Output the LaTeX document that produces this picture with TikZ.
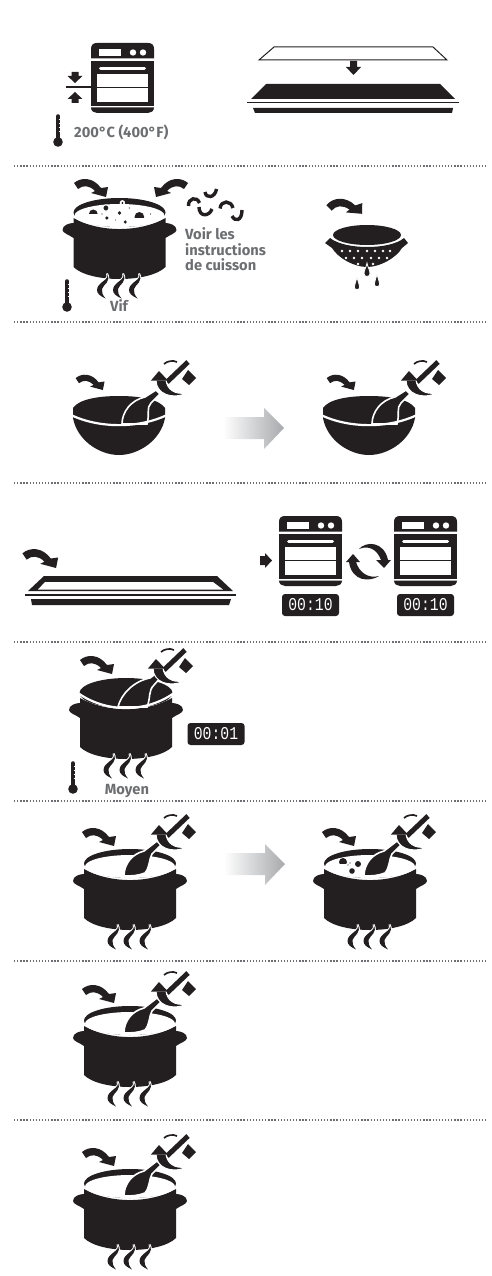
\documentclass[tikz,border=0pt]{standalone}
\usepackage{fontspec}
\newfontfamily\labfont{Fira Sans}
\newfontfamily\digitfont{Liberation Mono}
\definecolor{ink}{HTML}{231F20}
\definecolor{lab}{HTML}{6D6E71}
\definecolor{dotc}{HTML}{6D6E71}
\definecolor{arrowg}{HTML}{A7A9AC}
\tikzset{
 x=1pt,y=-1pt,
 divider/.style={line width=1.7pt,color=dotc,dash pattern=on 1.3pt off 1.8pt},
 labeltext/.style={inner sep=0pt,text=lab,font=\labfont\bfseries\fontsize{14.7}{15.5}\selectfont,align=left},
 timerbox/.style={fill=ink,rounded corners=3pt,minimum width=57pt,minimum height=22pt,inner sep=0pt,text=white,font=\digitfont\fontsize{18}{18}\selectfont},
 potbody/.pic={
  \fill[ink] (-46,7) .. controls (-20,21.7) and (20,21.7) .. (46,7) -- (46,12)
    .. controls (50,12) and (57,14) .. (57,19) .. controls (57,22) and (50,24) .. (46,27) -- (46,56)
    .. controls (30,72) and (-30,72) .. (-46,56) -- (-46,27)
    .. controls (-50,24) and (-57,22) .. (-57,19) .. controls (-57,14) and (-50,12) .. (-46,12) -- cycle;
  \foreach \wx in {-16,0,16}{
   \draw[white,line width=2pt,shift={(\wx,0)}] (3.5,62.5) .. controls (7,69) and (-6.5,71) .. (-6.5,79) .. controls (-6.5,83) and (-3,85) .. (2,87.5) .. controls (-1,84) and (-2,81) .. (-1.5,78) .. controls (0,73) and (8,71) .. (3.5,62.5) -- cycle;
   \fill[ink,shift={(\wx,0)}] (3.5,62.5) .. controls (7,69) and (-6.5,71) .. (-6.5,79) .. controls (-6.5,83) and (-3,85) .. (2,87.5) .. controls (-1,84) and (-2,81) .. (-1.5,78) .. controls (0,73) and (8,71) .. (3.5,62.5) -- cycle;
  }
 },
 potsoup/.pic={
  \pic at (0,0) {potbody};
  \fill[ink] (0,1.5) ellipse [x radius=46,y radius=14.5];
  \fill[white] (0,4.5) ellipse [x radius=45,y radius=11.5];
 },
 smallspoon/.pic={
  \filldraw[ink,draw=white,line width=1.6pt] (-6,14) .. controls (-6,2) and (2,-8) .. (14,-11) -- (27,-21) -- (31,-17) -- (22,-8) .. controls (19,-3) and (20,5) .. (15,11) .. controls (8,14) and (0,14) .. (-6,14) -- cycle;
 },
 stir/.pic={
  \draw[ink,line width=5pt] (37,-26) -- (58,-46);
  \filldraw[ink,draw=white,line width=1pt] (26,-28) .. controls (26,-14) and (42,-8) .. (57,-15) .. controls (44,-13) and (37,-19) .. (36,-28) -- cycle;
  \fill[ink] (21,-27.5) -- (29,-37) -- (38,-27.5) -- cycle;
  \draw[ink,line width=1.7pt] (34,-44) .. controls (37,-47) and (43,-48) .. (47,-46);
  \fill[ink] (52,-29) -- (58,-38) -- (66,-30) -- (59,-23) -- cycle;
 },
 bendarrow/.pic={
  \fill[ink] (-31,-14) .. controls (-24,-20) and (-12,-20) .. (-4,-9) -- (3,-10) -- (1,0) -- (-14,-4) -- (-10,-6)
    .. controls (-16,-12) and (-22,-12) .. (-27,-8) -- cycle;
 },
 oven/.pic={
  \fill[ink] (0,15.5) -- (0,6) .. controls (0,2) and (2,0) .. (6,0) -- (57,0) .. controls (61,0) and (63,2) .. (63,6) -- (63,15.5) -- cycle;
  \fill[white] (8,6) rectangle (30,13);
  \fill[white] (42,9.5) circle [radius=3.2];
  \fill[white] (52,9.5) circle [radius=3.2];
  \fill[ink] (0,18) rectangle (63,63);
  \fill[white] (6,31) rectangle (57,59);
  \draw[white,line width=3pt,line cap=round] (9.5,25.5) -- (53.5,25.5);
  \draw[ink,line width=1.4pt] (6,44.5) -- (57,44.5);
  \fill[ink] (0,64.5) -- (63,64.5) .. controls (63,68) and (60,70) .. (57,70) -- (6,70) .. controls (3,70) and (0,68) .. (0,64.5) -- cycle;
 },
 thermo/.pic={
  \draw[ink,line width=4.6pt,line cap=round] (0,-25.5) -- (0,0);
  \fill[ink] (0,0) circle [radius=4.8];
  \foreach \ty in {-23,-19,-15,-11}{\draw[white,line width=.7pt] (.7,\ty) -- (2.6,\ty);}
 },
 teardrop/.pic={
  \filldraw[ink,draw=white,line width=.8pt] (0,0) .. controls (.6,4) and (3,7) .. (3,10.5) .. controls (3,14.5) and (-3,14.5) .. (-3,10.5) .. controls (-3,7) and (-.6,4) .. (0,0) -- cycle;
 },
 downarrow/.pic={
  \fill[ink] (-3.5,-5.5) -- (3.5,-5.5) -- (3.5,-1.5) -- (7.5,-1.5) -- (0,5.5) -- (-7.5,-1.5) -- (-3.5,-1.5) -- cycle;
 },
 grayarrow/.pic={
  \shade[left color=white,right color=arrowg] (0,-11) -- (41,-11) -- (41,-20) -- (61,0) -- (41,21) -- (41,11) -- (0,11) -- cycle;
 },
}
\begin{document}
\begin{tikzpicture}[x=1pt,y=-1pt]
\useasboundingbox (0,0) rectangle (492,1276);
% dividers
\foreach \dy in {166,322,483,642,801,961,1120}{\draw[divider] (14,\dy) -- (486,\dy);}

% section 1
\draw[ink,line width=1.4pt] (66,87) -- (91,87);
\pic at (91,43) {oven};
\pic at (75,77.5) {downarrow};
\pic[yscale=-1] at (75,97.5) {downarrow};
\pic at (58,142) {thermo};
\node[labeltext,anchor=base west] (templabel) at (74,138) {200°C (400°F)};
\draw[ink,line width=1pt,fill=white] (274,47) -- (433,47) -- (447,60) -- (259,60) -- cycle;
\fill[ink] (350,61) -- (357,61) -- (357,67) -- (361,67) -- (353.5,75) -- (346,67) -- (350,67) -- cycle;
\fill[ink] (266,84) -- (440,84) -- (455,99) -- (251,99) -- cycle;
\draw[ink,line width=1pt] (247,103) -- (459,103);
\fill[ink] (253,108) -- (453,108) -- (452,113) -- (255,113) -- cycle;

% section 2
\begin{scope}[shift={(119.5,211)},xscale=.97]
 \pic at (0,0) {potsoup};
 \fill[ink] (-27,3) circle [radius=4.5];
 \fill[ink] (20.5,6) circle [radius=5];
 \fill[white] (-32,3) rectangle (-20,8.5);
 \fill[white] (14,7) rectangle (27,12);
 \filldraw[ink,draw=white,line width=1pt] (-14,-3) circle [radius=3.2];
 \filldraw[white,draw=white] (3,-8) circle [radius=2.6];
 \fill[ink] (3,-8) circle [radius=1.1];
 \fill[ink] (0,2) circle [radius=1.8];
 \fill[ink] (-13,7) circle [radius=1.8];
 \fill[ink] (6,11) circle [radius=1.7];
 \fill[ink] (-4,9) circle [radius=.6];
 \fill[white] (10,-3) circle [radius=1.4];
 \fill[ink] (10,-3) circle [radius=.6];
 \fill[ink] (-18,3) circle [radius=.7];
 \fill[ink] (32,3) circle [radius=.6];
\end{scope}
\pic at (105,197) {bendarrow};
\pic[xscale=-1] at (157,197) {bendarrow};
\pic at (67,307) {thermo};
\node[labeltext,anchor=base] (vif) at (119,311.5) {Vif};
\draw[ink,line width=3.4pt] (188.5,206) .. controls (188,198) and (197,196) .. (199.5,203);
\draw[ink,line width=3.4pt] (205,192) .. controls (206,199) and (215,198) .. (216.5,189);
\draw[ink,line width=3.4pt] (199,207) .. controls (199,217) and (209,217) .. (212,209);
\draw[ink,line width=3.4pt] (220,208.5) .. controls (221,200) and (231,200) .. (233,208);
\draw[ink,line width=3.4pt] (232,216) .. controls (235,222) and (242,221) .. (242,210);
\node[labeltext,anchor=base west] (voir) at (185,239) {Voir les};
\node[labeltext,anchor=base west] (instr) at (185,255) {instructions};
\node[labeltext,anchor=base west] (cuis) at (185,270.5) {de cuisson};

% colander
\pic[scale=1.05,rotate=10] at (361,214) {bendarrow};
\fill[ink] (367,235) ellipse [x radius=34,y radius=10];
\fill[ink] (330,238) .. controls (345,250) and (390,250) .. (404,238) -- (408,243) -- (402,248)
   .. controls (396,258) and (380,267) .. (367,267) .. controls (354,267) and (338,258) .. (332,248) -- (325,243) -- cycle;
\foreach \dx in {342,350,358,367,375,383,390}{\fill[white] (\dx,251) circle [radius=1.4];}
\foreach \dx in {346,354,362,371,379,387}{\fill[white] (\dx,258) circle [radius=1.4];}
\foreach \dx in {358,373}{\fill[white] (\dx,264) circle [radius=1.4];}
\pic at (367,263) {teardrop};
\pic[scale=.9] at (357,277.5) {teardrop};
\pic[scale=.9] at (377,274.5) {teardrop};

% section 3: bowls
\foreach \bx/\ax in {119/102,369/353}{
 \begin{scope}[shift={(\bx,408)}]
  \fill[ink] (-46,0) .. controls (-40,-9) and (-20,-12) .. (0,-12) .. controls (20,-12) and (40,-9) .. (46,0) -- (46,10)
     .. controls (42,32) and (20,47) .. (0,47) .. controls (-20,47) and (-42,32) .. (-46,10) -- cycle;
  \filldraw[ink,draw=white,line width=1.6pt] (3,16) .. controls (3,4) and (12,-8) .. (26,-11) -- (37,-18) -- (41,-14) -- (32,-5) .. controls (27,0) and (31,6) .. (28,16) -- cycle;
  \draw[white,line width=2.2pt] (-48,7) .. controls (-20,20.5) and (20,20.5) .. (48,7);
  \pic at (11,0) {stir};
 \end{scope}
 \pic[scale=.85] at (\ax,390) {bendarrow};
}
\pic at (223,428) {grayarrow};

% section 4
\pic[scale=1.05] at (55,568) {bendarrow};
\fill[ink] (44,576) -- (217,576) -- (233,591) -- (28,591) -- cycle;
\fill[white] (45,582) -- (213,582) -- (223,589.5) -- (38,589.5) -- cycle;
\draw[ink,line width=1.3pt] (25,595) -- (236,595);
\fill[ink] (31,599) -- (231,599) -- (229,605) -- (32,605) -- cycle;
\fill[ink] (260,556) -- (265,556) -- (265,553) -- (272,560.5) -- (265,568) -- (265,565) -- (260,565) -- cycle;
\pic at (279,516) {oven};
\pic at (394,516) {oven};
\node[timerbox] (timera) at (310.5,605) {\scalebox{.82}[1]{00:10}};
\node[timerbox] (timerb) at (425.5,605) {\scalebox{.82}[1]{00:10}};
\fill[ink] (359,549) .. controls (366,541) and (384,541) .. (388,560) -- (391,560) -- (384,568) -- (376,560) -- (381,560) .. controls (377,549) and (368,545) .. (359,549) -- cycle;
\fill[ink] (379,576) .. controls (370,582) and (352,582) .. (349,562) -- (346,562) -- (353,554) -- (360,562) -- (356,562) .. controls (359,572) and (368,579) .. (379,576) -- cycle;

% section 5
\begin{scope}[shift={(126,691)}]
 \pic at (0,0) {potbody};
 \fill[ink] (0,2) ellipse [x radius=46.5,y radius=15];
 \filldraw[ink,draw=white,line width=1.6pt] (-8,16) .. controls (-5,3) and (8,-10) .. (24,-13) -- (32,-19) -- (36,-15) -- (28,-6) .. controls (22,0) and (25,6) .. (21,16) -- cycle;
 \draw[white,line width=2.2pt] (-48,2) .. controls (-20,22) and (20,22) .. (48,2);
 \pic at (1,5) {stir};
\end{scope}
\pic at (111,674) {bendarrow};
\node[timerbox] (timerc) at (216,734) {\scalebox{.82}[1]{00:01}};
\pic at (73,789) {thermo};
\node[labeltext,anchor=base] (moyen) at (127,794) {Moyen};

% sections 6-8
\foreach \cx/\cy in {130/862,370/862,130/1019,130/1182}{
 \begin{scope}[shift={(\cx,\cy)}]
  \pic at (0,0) {potsoup};
  \pic at (0,0) {smallspoon};
  \pic at (0,0) {stir};
 \end{scope}
 \pic at (\cx-17,\cy-16) {bendarrow};
}
\begin{scope}[shift={(370,862)}]
 \fill[ink] (-27,0) circle [radius=4];
 \fill[white] (-33,1.5) rectangle (-21,6);
 \fill[ink] (-12,2) circle [radius=3];
 \fill[ink] (-18,9) circle [radius=2.8];
 \fill[ink] (-22,3) circle [radius=.6];
 \fill[ink] (-20,1) circle [radius=.7];
\end{scope}
\pic at (224,864) {grayarrow};
\end{tikzpicture}
\end{document}
